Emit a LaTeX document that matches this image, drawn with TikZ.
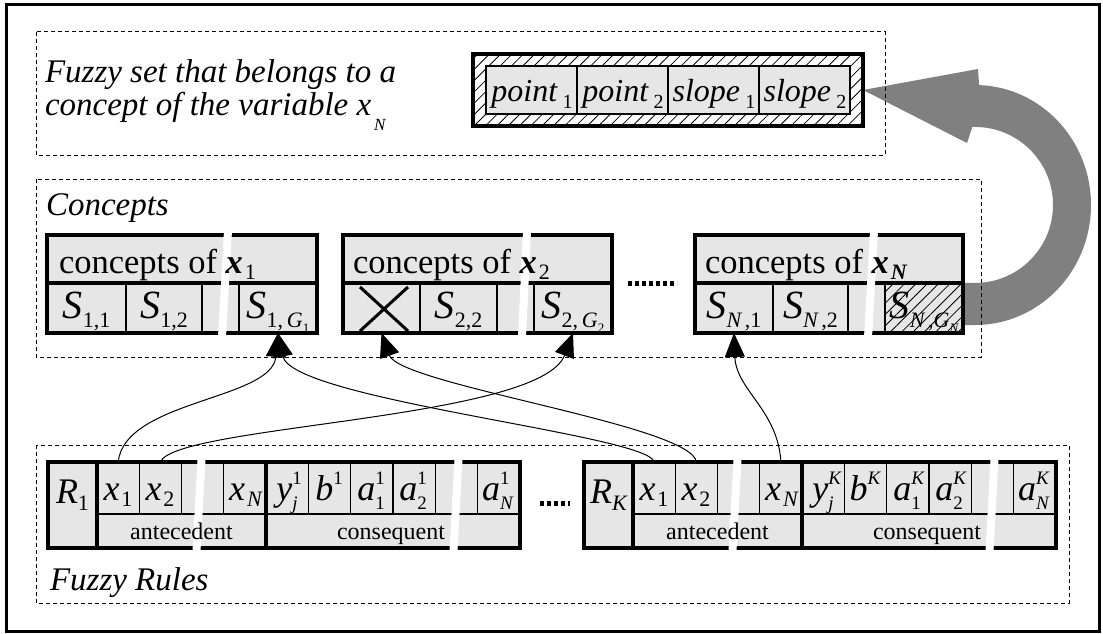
\documentclass[tikz,border=0pt]{standalone}
\usepackage{fontspec}
\setmainfont{Liberation Serif}
\usetikzlibrary{arrows.meta,patterns.meta}
\definecolor{cellgray}{RGB}{230,230,230}
\definecolor{arrowgray}{RGB}{128,128,128}
\newcommand{\fsz}[1]{\fontsize{#1}{#1}\selectfont}
\newcommand{\subx}[3]{\raisebox{-#1pt}{\fsz{#2}#3}}
\newcommand{\supx}[3]{\raisebox{#1pt}{\fsz{#2}#3}}
\tikzset{
  every node/.style={inner sep=0pt,outer sep=0pt},
  outerframe/.style={draw,line width=3pt},
  dashbox/.style={draw,line width=1pt,dash pattern=on 4pt off 3pt},
  cellbox/.style={draw,fill=cellgray,line width=1.2pt,anchor=north west},
  heavy/.style={draw,line width=3.5pt},
  whitegap/.style={draw=white,line width=8pt},
  hatched/.style={pattern={Lines[angle=45,distance=8pt,line width=0.8pt]}},
  link/.style={draw,line width=1pt,-{Triangle[length=24pt,width=20pt]}},
  lbl/.style={anchor=base west,font=\fsz{33}\itshape},
  hdtext/.style={anchor=base west,font=\fsz{34.5}},
  ctext/.style={anchor=base,font=\fsz{40}},
  ftext/.style={anchor=base,font=\fsz{32}\itshape},
  rtext/.style={anchor=base,font=\fsz{36}},
  rlab/.style={anchor=base,font=\fsz{24}},
  dotrow/.style={draw,line width=5pt,dash pattern=on 4pt off 3pt},
}
\begin{document}
\begin{tikzpicture}[x=1pt,y=-1pt]
\useasboundingbox (0,0) rectangle (1103,634);
% outer frame
\draw[outerframe] (6,5) rectangle (1099,631);
% big gray curved arrow
\fill[arrowgray] (950,325) -- (975,325)
  arc[start angle=90,end angle=-88,x radius=116,y radius=120]
  -- (978,69) -- (863,90) -- (967,143) -- (972.3,127)
  arc[start angle=-92,end angle=90,x radius=78,y radius=78]
  -- (950,283) -- cycle;
% dashed groups
\draw[dashbox] (36,32) rectangle (885,155);
\draw[dashbox] (36,179) rectangle (981,357);
\draw[dashbox] (36,445) rectangle (1069,603);
% group labels
\node[lbl] (fstitleA) at (45,82) {Fuzzy set that belongs to a};
\node[lbl] (fstitleB) at (45,115) {concept of the variable x\kern3pt\subx{15}{17}{N}};
\node[lbl] (conlabel) at (46,215) {Concepts};
\node[lbl] (rulelabel) at (50,590) {Fuzzy Rules};
% fuzzy set record
\node[draw,line width=4pt,hatched,anchor=north west,minimum width=390,minimum height=72] (fs) at (473,54) {};
\foreach \nm/\i in {fa/0,fb/1,fc/2,fd/3}
  \node[cellbox,minimum width=91,minimum height=48] (\nm) at ({486+91*\i},66) {};
\node[ftext] (fat) at (532,101) {point\,\subx{7}{20}{\upshape 1}};
\node[ftext] (fbt) at (623,101) {point\,\subx{7}{20}{\upshape 2}};
\node[ftext] (fct) at (714,101) {slope\,\subx{7}{20}{\upshape 1}};
\node[ftext] (fdt) at (805,101) {slope\,\subx{7}{20}{\upshape 2}};
% concept box 1
\node[cellbox,minimum width=270,minimum height=48] (c1h) at (47,235) {};
\node[cellbox,minimum width=79,minimum height=50] (c1a) at (47,283) {};
\node[cellbox,minimum width=76,minimum height=50] (c1b) at (126,283) {};
\node[cellbox,minimum width=37,minimum height=50] (c1c) at (202,283) {};
\node[cellbox,minimum width=78,minimum height=50] (c1g) at (239,283) {};
\draw[heavy] (47,235) rectangle (317,333) (47,283) -- (317,283);
\draw[whitegap] (228,231) -- (222,337);
\node[hdtext] (c1t) at (59,273) {concepts of \textbf{\textit{x}}\kern2pt\subx{6}{22}{1}};
\node[ctext] (c1at) at (86.5,318) {{\itshape S}\subx{9}{22}{1,1}};
\node[ctext] (c1bt) at (164,318) {{\itshape S}\subx{9}{22}{1,2}};
\node[ctext] (c1gt) at (278,318) {{\itshape S}\subx{9}{22}{1,\,{\itshape G}\subx{5}{13}{1}}};
% concept box 2
\node[cellbox,minimum width=269,minimum height=48] (c2h) at (343,235) {};
\node[cellbox,minimum width=77,minimum height=50] (c2a) at (343,283) {};
\node[cellbox,minimum width=77,minimum height=50] (c2b) at (420,283) {};
\node[cellbox,minimum width=37,minimum height=50] (c2c) at (497,283) {};
\node[cellbox,minimum width=78,minimum height=50] (c2g) at (534,283) {};
\draw[heavy] (343,235) rectangle (612,333) (343,283) -- (612,283);
\draw[line width=3pt] (360,287) -- (408,331) (408,287) -- (360,331);
\draw[whitegap] (527,231) -- (522,337);
\node[hdtext] (c2t) at (353,273) {concepts of \textbf{\textit{x}}\kern2pt\subx{6}{22}{2}};
\node[ctext] (c2bt) at (458.5,318) {{\itshape S}\subx{9}{22}{2,2}};
\node[ctext] (c2gt) at (573,318) {{\itshape S}\subx{9}{22}{2,\,{\itshape G}\subx{5}{13}{2}}};
% dots between concept boxes
\draw[dotrow] (628,283) -- (677,283);
% concept box N
\node[cellbox,minimum width=268,minimum height=48] (cnh) at (695,235) {};
\node[cellbox,minimum width=78,minimum height=50] (cna) at (695,283) {};
\node[cellbox,minimum width=75,minimum height=50] (cnb) at (773,283) {};
\node[cellbox,minimum width=37,minimum height=50] (cnc) at (848,283) {};
\node[cellbox,minimum width=78,minimum height=50] (cng) at (885,283) {};
\path[hatched] (cng.south west) rectangle (cng.north east);
\draw[line width=1.2pt] (cng.south west) rectangle (cng.north east);
\draw[heavy] (695,235) rectangle (963,333) (695,283) -- (963,283);
\draw[whitegap] (874,231) -- (868,337);
\node[hdtext] (cnt) at (705,273) {concepts of \textbf{\textit{x}}\kern2pt\subx{6}{22}{\textbf{\textit{N}}}};
\node[ctext] (cnat) at (734,318) {{\itshape S}\subx{9}{22}{{\itshape N}\,,1}};
\node[ctext] (cnbt) at (810.5,318) {{\itshape S}\subx{9}{22}{{\itshape N}\,,2}};
\node[ctext] (cngt) at (924,318) {{\itshape S}\subx{9}{22}{{\itshape N}\,,{\itshape G}\subx{5}{13}{\itshape N}}};
% rule boxes
\foreach \rr/\dx/\su in {1/0/1,K/536/{\itshape K}} {
  \node[cellbox,minimum width=49,minimum height=86] (r\rr) at (48+\dx,462) {};
  \foreach \nm [count=\i from 0] in {x1,x2,xb,xn}
    \node[cellbox,minimum width=42.25,minimum height=52] (r\rr\nm) at ({97+\dx+42.25*\i},462) {};
  \foreach \nm [count=\i from 0] in {y,b,a1,a2,ab,an}
    \node[cellbox,minimum width=42.33,minimum height=52] (r\rr\nm) at ({266+\dx+42.33*\i},462) {};
  \node[cellbox,minimum width=169,minimum height=34] (r\rr ant) at (97+\dx,514) {};
  \node[cellbox,minimum width=254,minimum height=34] (r\rr con) at (266+\dx,514) {};
  \draw[heavy] (48+\dx,462) rectangle (520+\dx,548)
    (97+\dx,462) -- (97+\dx,548) (266+\dx,462) -- (266+\dx,548);
  \draw[whitegap] (201.5+\dx,459) -- (196.5+\dx,551);
  \draw[whitegap] (458.5+\dx,459) -- (453.5+\dx,551);
  \node[rtext] (r\rr t) at (72.5+\dx,503) {{\itshape R}\subx{7}{22}{\su}};
  \node[rtext] (r\rr x1t) at (118+\dx,500) {{\itshape x}\kern2pt\subx{6}{22}{1}};
  \node[rtext] (r\rr x2t) at (160+\dx,500) {{\itshape x}\kern2pt\subx{6}{22}{2}};
  \node[rtext] (r\rr xnt) at (245.5+\dx,500) {{\itshape x}\kern2pt\subx{6}{22}{\itshape N}};
  \node[rtext] (r\rr yt) at (287+\dx,500) {{\itshape y}\rlap{\supx{16}{19}{\su}}\subx{9}{19}{\itshape j}};
  \node[rtext] (r\rr bt) at (329+\dx,500) {{\itshape b}\supx{16}{19}{\su}};
  \node[rtext] (r\rr a1t) at (371+\dx,500) {{\itshape a}\rlap{\supx{16}{19}{\su}}\subx{9}{19}{1}};
  \node[rtext] (r\rr a2t) at (413+\dx,500) {{\itshape a}\rlap{\supx{16}{19}{\su}}\subx{9}{19}{2}};
  \node[rtext] (r\rr ant) at (497.5+\dx,500) {{\itshape a}\rlap{\supx{16}{19}{\su}}\subx{9}{19}{\itshape N}};
  \node[rlab] (r\rr antlab) at (181.5+\dx,539) {antecedent};
  \node[rlab] (r\rr conlab) at (391+\dx,539) {consequent};
}
% dots between rules
\draw[dotrow] (540,503) -- (570,503);
% connectors
\draw[link] (r1x1.north) .. controls (125,400) and (272,400) .. (c1g.south);
\draw[link] (rKx1.north) .. controls (650,435) and (292,400) .. (c1g.south);
\draw[link] (r1x2.north) .. controls (175,425) and (540,420) .. (c2g.south);
\draw[link] (rKx2.north) .. controls (692,425) and (400,385) .. (c2a.south);
\draw[link] (rKxn.north) .. controls (778,410) and (736,390) .. (cna.south);
\end{tikzpicture}
\end{document}
